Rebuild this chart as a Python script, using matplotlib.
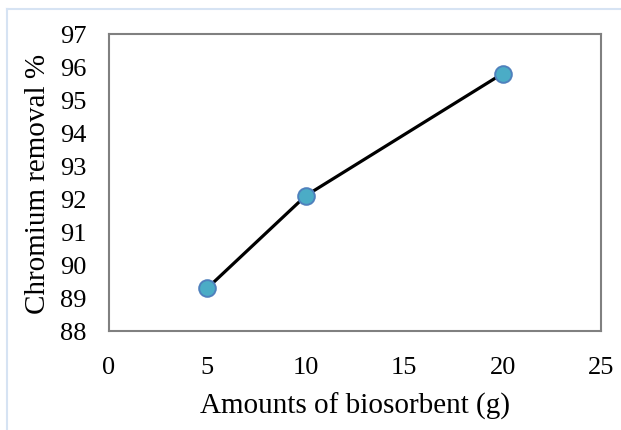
import matplotlib.pyplot as plt
from matplotlib.lines import Line2D

# Remocao de cromo em funcao da massa de biossorvente
biossorvente_g = [5, 10, 20]
remocao_cromo = [89.3, 92.1, 95.8]

x_ticks = [0, 5, 10, 15, 20, 25]
y_ticks = [88, 89, 90, 91, 92, 93, 94, 95, 96, 97]

plt.rcParams["font.family"] = ["Liberation Serif", "DejaVu Serif"]

fig = plt.figure(figsize=(6.21, 4.31), dpi=100)
ax = fig.add_axes([109 / 621, 1 - 332 / 431, 492 / 621, 297 / 431])

ax.plot(
    biossorvente_g,
    remocao_cromo,
    "-o",
    color="black",
    linewidth=2.3,
    markersize=12,
    markerfacecolor="#4BACC6",
    markeredgecolor="#4F81BD",
    markeredgewidth=1.4,
    solid_capstyle="butt",
)

ax.set_xlim(0, 25)
ax.set_ylim(88, 97)
ax.set_xticks(x_ticks)
ax.set_yticks(y_ticks)
ax.tick_params(length=0, labelsize=19, colors="black")
ax.tick_params(axis="y", pad=16)
ax.tick_params(axis="x", pad=18)

for spine in ax.spines.values():
    spine.set_color("#808080")
    spine.set_linewidth(1.5)

ax.set_xlabel("Amounts of biosorbent (g)", fontsize=21, labelpad=10)
ax.set_ylabel("Chromium removal %", fontsize=21, labelpad=7)

# moldura azul clara da area do grafico
fig.add_artist(Line2D([7 / 621, 1], [1 - 10 / 431, 1 - 10 / 431],
                      color="#D6E3F3", linewidth=1.5, transform=fig.transFigure))
fig.add_artist(Line2D([7 / 621, 7 / 621], [0, 1 - 10 / 431],
                      color="#D6E3F3", linewidth=1.5, transform=fig.transFigure))

fig.savefig("out.png", dpi=100)
